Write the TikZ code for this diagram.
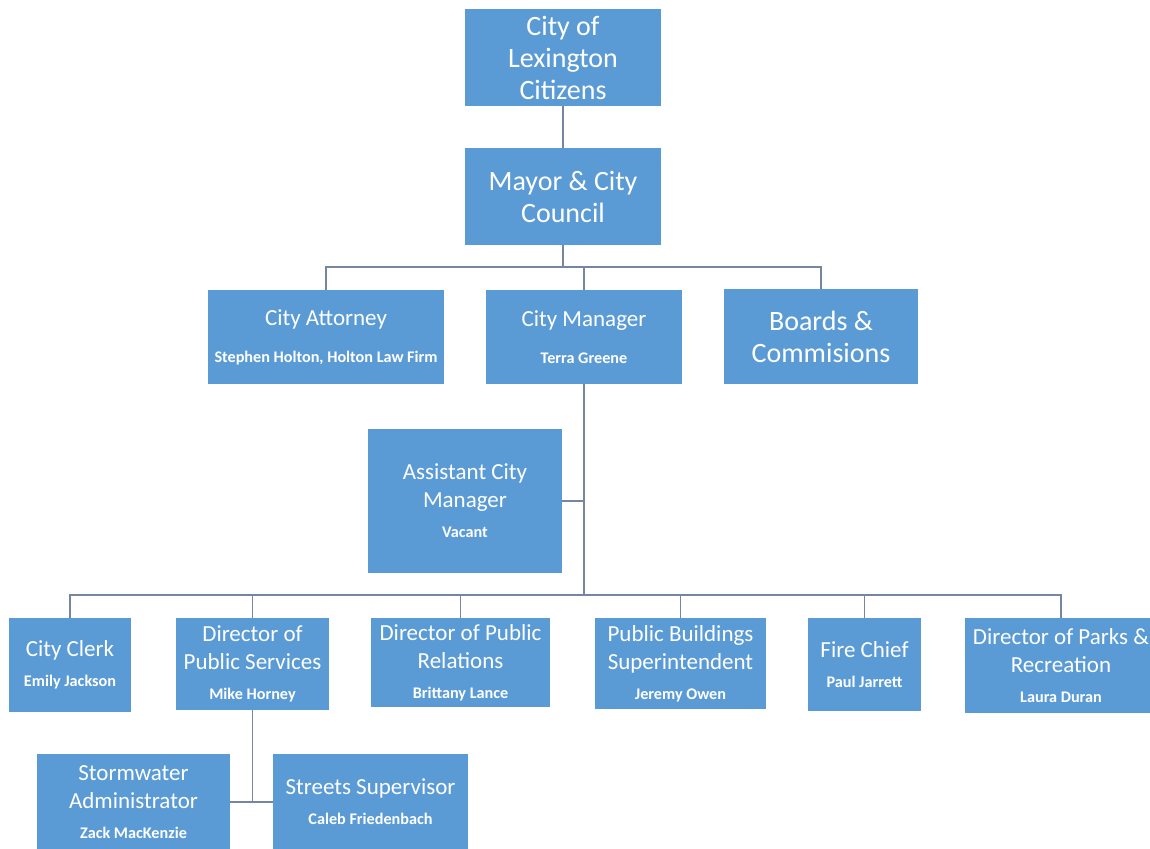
\documentclass[tikz,border=0pt]{standalone}
\usepackage{fontspec}
\setmainfont{Carlito}
\usepackage{tikz}
\usetikzlibrary{calc}
\definecolor{boxblue}{HTML}{5B9BD5}
\definecolor{wire}{HTML}{7585A2}
\newcommand{\who}[2][2pt]{\\[#1]{\fontsize{16.2}{18}\selectfont\bfseries #2}}
\tikzset{
  post/.style 2 args={fill=boxblue, text=white, align=center, inner sep=0pt,
    minimum width=#1pt, minimum height=#2pt, font=\fontsize{23}{28}\selectfont},
  big/.style={font=\fontsize{28}{32}\selectfont},
  link/.style={draw=wire, line width=1.3pt},
}
\begin{document}
\begin{tikzpicture}[x=1pt,y=-1pt]
  \fill[white] (0,0) rectangle (1150,848);
  \useasboundingbox (0,0) rectangle (1150,848);

  % top of the chart
  \node[post={196}{97},big] (citizens) at (563,57.5) {City of\\Lexington\\Citizens};
  \node[post={196}{97},big] (mayor) at (563,196.5) {Mayor \& City\\Council};

  % second row
  \node[post={236}{94}] (attorney) at (326,337) {City Attorney\who[9pt]{Stephen Holton, Holton Law Firm}};
  \node[post={196}{94}] (manager) at (584,337) {City Manager\who[9pt]{Terra Greene}};
  \node[post={194}{95},big] (boards) at (821,336.5) {Boards \&\\Commisions};
  \node[post={194}{144}] (assistant) at (465,501) {Assistant City\\Manager\who{Vacant}};

  % departments
  \node[post={122}{94}] (clerk) at (70,665) {City Clerk\who{Emily Jackson}};
  \node[post={153}{92}] (services) at (252.5,664) {Director of\\Public Services\who{Mike Horney}};
  \node[post={179}{89}] (relations) at (460.5,662.5) {Director of Public\\Relations\who{Brittany Lance}};
  \node[post={171}{91}] (buildings) at (680.5,663.5) {Public Buildings\\Superintendent\who{Jeremy Owen}};
  \node[post={113}{93}] (fire) at (864.5,664.5) {Fire Chief\who{Paul Jarrett}};
  \node[post={192}{95}] (parks) at (1061,665.5) {Director of Parks \&\\Recreation\who{Laura Duran}};

  % under public services
  \node[post={193}{96}] (storm) at (133.5,802) {Stormwater\\Administrator\who{Zack MacKenzie}};
  \node[post={195}{96}] (streets) at (370.5,802) {Streets Supervisor\who{Caleb Friedenbach}};

  % connectors
  \coordinate (topbus) at (563,267);
  \coordinate (lowbus) at (584,595);
  \draw[link] (citizens) -- (mayor);
  \draw[link] (mayor) -- (topbus);
  \draw[link] (attorney.north) |- (topbus) -| (boards.north);
  \draw[link] (manager.north) -- (manager.north |- topbus);
  \draw[link] (manager.south) -- (lowbus);
  \draw[link] (assistant.east) -- (assistant.east -| lowbus);
  \draw[link] (clerk.north) |- (lowbus) -| (parks.north);
  \foreach \n in {services,relations,buildings,fire}
    \draw[link] (\n.north) -- (\n.north |- lowbus);
  \draw[link] (services.south) -- (services.south |- storm.east);
  \draw[link] (storm.east) -- (streets.west);
\end{tikzpicture}
\end{document}
